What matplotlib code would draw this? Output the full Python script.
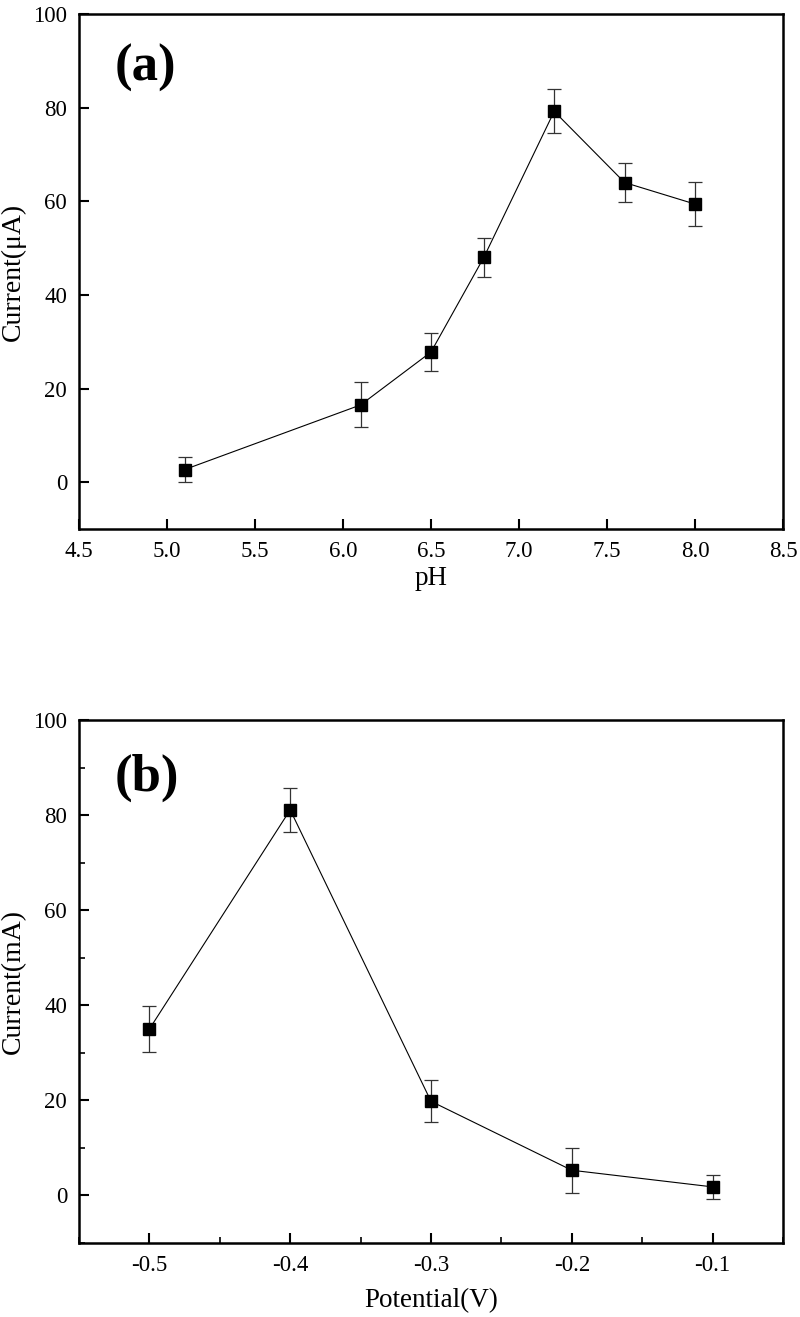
import matplotlib
matplotlib.use("Agg")
import matplotlib.pyplot as plt
from matplotlib.ticker import MultipleLocator

plt.rcParams['font.family'] = ['Liberation Serif', 'DejaVu Serif']

# Panel (a): pH optimisation
ph = [5.1, 6.1, 6.5, 6.8, 7.2, 7.6, 8.0]
current_a = [2.7, 16.5, 27.8, 48.0, 79.2, 64.0, 59.4]
err_a = [2.6, 4.8, 4.1, 4.2, 4.7, 4.1, 4.7]
ph_ticks = [4.5, 5.0, 5.5, 6.0, 6.5, 7.0, 7.5, 8.0, 8.5]
ph_labels = ['4.5', '5.0', '5.5', '6.0', '6.5', '7.0', '7.5', '8.0', '8.5']

# Panel (b): potential optimisation
potential = [-0.5, -0.4, -0.3, -0.2, -0.1]
current_b = [35.0, 81.1, 19.8, 5.3, 1.8]
err_b = [4.9, 4.65, 4.45, 4.75, 2.5]
pot_ticks = [-0.5, -0.4, -0.3, -0.2, -0.1]
pot_labels = ['-0.5', '-0.4', '-0.3', '-0.2', '-0.1']

fig = plt.figure(figsize=(8, 13.17), dpi=100)
ax1 = fig.add_axes([0.09875, 0.5983, 0.880, 0.3911])
ax2 = fig.add_axes([0.09875, 0.0562, 0.880, 0.3971])

def style(ax):
    for s in ax.spines.values():
        s.set_linewidth(1.8)
    ax.tick_params(which='major', direction='in', length=7.5, width=1.5,
                   labelsize=16.5, pad=8.5, top=False, right=False)
    ax.tick_params(which='minor', direction='in', length=4, width=1.2,
                   top=False, right=False)

for ax, x, y, e in [(ax1, ph, current_a, err_a), (ax2, potential, current_b, err_b)]:
    ax.errorbar(x, y, yerr=e, fmt='s-', color='black', ecolor='#333333',
                elinewidth=0.9, capsize=5, capthick=0.9, lw=0.8,
                markersize=8.5, markerfacecolor='black', markeredgecolor='black')
    style(ax)

ax1.set_xlim(4.5, 8.5)
ax1.set_ylim(-10, 100)
ax1.yaxis.set_major_locator(MultipleLocator(20))
ax1.set_xticks(ph_ticks)
ax1.set_xticklabels(ph_labels)
ax1.set_xlabel('pH', fontsize=19.5, labelpad=3)
ax1.set_ylabel('Current(μA)', fontsize=20, labelpad=5)
ax1.text(0.05, 0.895, '(a)', transform=ax1.transAxes, fontsize=38,
         fontweight='bold', va='center', ha='left')

ax2.set_xlim(-0.55, -0.05)
ax2.set_ylim(-10, 100)
ax2.set_xticks(pot_ticks)
ax2.set_xticklabels(pot_labels)
ax2.xaxis.set_minor_locator(MultipleLocator(0.05))
ax2.yaxis.set_major_locator(MultipleLocator(20))
ax2.yaxis.set_minor_locator(MultipleLocator(10))
ax2.set_xlabel('Potential(V)', fontsize=19.5, labelpad=9)
ax2.set_ylabel('Current(mA)', fontsize=20, labelpad=5)
ax2.text(0.05, 0.89, '(b)', transform=ax2.transAxes, fontsize=38,
         fontweight='bold', va='center', ha='left')

fig.savefig('out.png', dpi=100)
